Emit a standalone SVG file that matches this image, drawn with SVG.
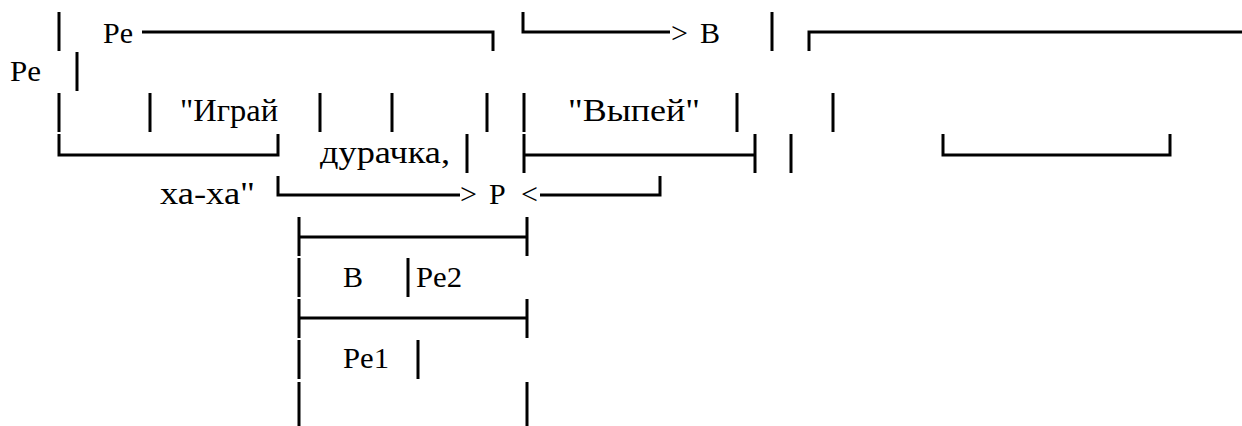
<svg xmlns="http://www.w3.org/2000/svg" width="1242" height="426" viewBox="0 0 1242 426">
<rect width="1242" height="426" fill="#fff"/>
<g id="n1"><text x="103" y="43" font-family="Liberation Serif" font-size="30" textLength="30" lengthAdjust="spacingAndGlyphs">Pe</text></g>
<g id="n2"><text x="671" y="43" font-family="Liberation Serif" font-size="30">&gt;</text></g>
<g id="n3"><text x="700" y="43" font-family="Liberation Serif" font-size="30">B</text></g>
<g id="n4"><text x="10" y="81" font-family="Liberation Serif" font-size="30" textLength="31" lengthAdjust="spacingAndGlyphs">Pe</text></g>
<g id="n5"><text x="180" y="121" font-family="Liberation Serif" font-size="31" textLength="98" lengthAdjust="spacingAndGlyphs">"Играй</text></g>
<g id="n6"><text x="568" y="121" font-family="Liberation Serif" font-size="31" textLength="132" lengthAdjust="spacingAndGlyphs">"Выпей"</text></g>
<g id="n7"><text x="320" y="163" font-family="Liberation Serif" font-size="31" textLength="130" lengthAdjust="spacingAndGlyphs">дурачка,</text></g>
<g id="n8"><text x="160" y="204" font-family="Liberation Serif" font-size="31" textLength="95" lengthAdjust="spacingAndGlyphs">ха-ха"</text></g>
<g id="n9"><text x="460" y="204" font-family="Liberation Serif" font-size="30">&gt;</text></g>
<g id="n10"><text x="489" y="204" font-family="Liberation Serif" font-size="30">P</text></g>
<g id="n11"><text x="521" y="204" font-family="Liberation Serif" font-size="30">&lt;</text></g>
<g id="n12"><text x="343" y="287" font-family="Liberation Serif" font-size="30">B</text></g>
<g id="n13"><text x="416" y="287" font-family="Liberation Serif" font-size="30" textLength="46" lengthAdjust="spacingAndGlyphs">Pe2</text></g>
<g id="n14"><text x="343" y="368" font-family="Liberation Serif" font-size="30" textLength="46" lengthAdjust="spacingAndGlyphs">Pe1</text></g>
<g id="edges" stroke="#000" stroke-width="3" fill="none">
<path d="M59 12V51"/>
<path d="M142 32H493V51"/>
<path d="M523 12V32H670"/>
<path d="M772 12V51"/>
<path d="M809 51V32H1242"/>
<path d="M77 52V91"/>
<path d="M59 93V132M150 93V132M320 93V132M392 93V132M487 93V132M524 93V132M737 93V132M833 93V132"/>
<path d="M59 134V155H278V134"/>
<path d="M467 134V173"/>
<path d="M524 134V173M524 155H755M755 134V173"/>
<path d="M791 134V173"/>
<path d="M943 134V155H1170V134"/>
<path d="M278 176V195H460"/>
<path d="M540 195H660V176"/>
<path d="M299 217V256M299 237H527M527 217V256"/>
<path d="M299 258V297M408 258V297"/>
<path d="M299 299V338M299 318H527M527 299V338"/>
<path d="M299 340V379M418 340V379"/>
<path d="M299 382V426M527 382V426"/>
</g>
</svg>
